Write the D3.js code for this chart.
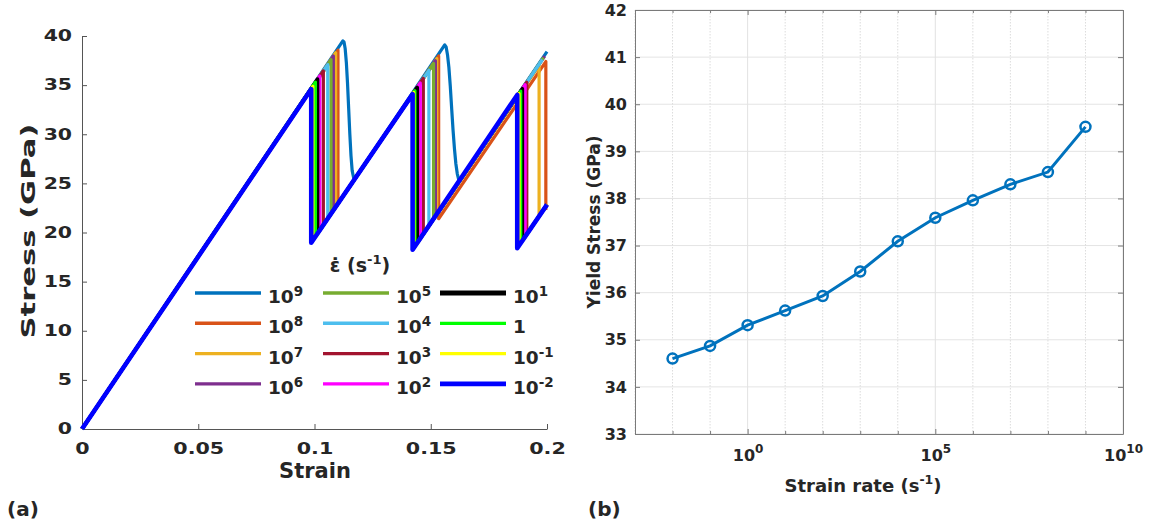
<!DOCTYPE html>
<html><head><meta charset="utf-8">
<script src="https://cdn.jsdelivr.net/npm/d3@7"></script>
<style>
body{margin:0;background:#fff;}
text{font-family:"DejaVu Sans",sans-serif;font-weight:bold;fill:#262626;}
</style>
</head><body>
<svg id="c" width="1150" height="527"></svg>
<script>
// ---------- DATA ----------
// Panel (a): strain (–) vs stress (GPa), one polyline per strain rate
const curve1e9  = [[0,0],[0.1122,39.5],[0.1127,39.4],[0.1132,38.7],[0.1137,37.3],[0.1142,35.2],[0.1147,32.6],[0.1152,30.0],[0.1157,27.8],[0.1162,26.3],[0.1168,25.6],[0.1174,25.47],
                   [0.1560,39.1],[0.1566,38.9],[0.1572,38.1],[0.1578,36.8],[0.1584,34.9],[0.1590,32.6],[0.1596,30.4],[0.1602,28.5],[0.1608,27.0],[0.1614,26.0],[0.1622,25.2],[0.2,38.4]];
const curve1e8  = [[0,0],[0.1101,38.56],[0.1101,22.94],[0.1534,37.97],[0.1534,21.4],[0.1995,37.4],[0.1995,22.3]];
const curve1e7  = [[0,0],[0.1091,38.30],[0.1091,22.59],[0.1526,37.69],[0.1526,21.75],[0.1966,37.0],[0.1966,21.6],[0.2,22.84]];
const curve1e6  = [[0,0],[0.1081,37.96],[0.1081,22.25],[0.1520,37.48],[0.1520,21.65],[0.1990,37.96]];
const curve1e5  = [[0,0],[0.1071,37.59],[0.1071,21.90],[0.1512,37.20],[0.1512,21.37],[0.1985,37.79]];
const curve1e4  = [[0,0],[0.1057,37.09],[0.1057,21.41],[0.1492,36.51],[0.1492,20.68],[0.1980,37.61]];
const curve1e3  = [[0,0],[0.1038,36.45],[0.1038,20.75],[0.1468,35.68],[0.1468,19.85],[0.1913,35.29],[0.1913,19.82],[0.2,22.84]];
const curve1e2  = [[0,0],[0.1023,35.93],[0.1023,20.23],[0.1455,35.22],[0.1455,19.40],[0.1906,35.04],[0.1906,19.58],[0.2,22.84]];
const curve1e1  = [[0,0],[0.1013,35.62],[0.1013,19.89],[0.1442,34.77],[0.1442,18.94],[0.1894,34.63],[0.1894,19.16],[0.2,22.84]];
const curve1e0  = [[0,0],[0.1004,35.31],[0.1004,19.57],[0.1432,34.43],[0.1432,18.60],[0.1887,34.39],[0.1887,18.92],[0.2,22.84]];
const curve1em1 = [[0,0],[0.0993,34.87],[0.0993,19.20],[0.1427,34.25],[0.1427,18.42],[0.1880,34.15],[0.1880,18.68],[0.2,22.84]];
const curve1em2 = [[0,0],[0.0986,34.60],[0.0986,18.95],[0.1422,34.08],[0.1422,18.25],[0.1872,34.0],[0.1872,18.40],[0.2,22.84]];
const legendBase = ["10","10","10","10","10","10","10","10","10","1","10","10"];
const legendExp  = ["9","8","7","6","5","4","3","2","1","","-1","-2"];
const strainTicks = [0,0.05,0.1,0.15,0.2];
const stressTicks = [0,5,10,15,20,25,30,35,40];

// Panel (b): strain rate (s^-1) vs yield stress (GPa)
const rateExponents = [-2,-1,0,1,2,3,4,5,6,7,8,9];
const yieldStress   = [34.60,34.87,35.31,35.62,35.93,36.45,37.09,37.59,37.96,38.30,38.56,39.52];
const rateTickExps  = [-3,-2,-1,0,1,2,3,4,5,6,7,8,9,10];
const rateLabelExps = [0,5,10];
const yieldTicks    = [33,34,35,36,37,38,39,40,41,42];

// ---------- STYLE ----------
const curves = [curve1e9,curve1e8,curve1e7,curve1e6,curve1e5,curve1e4,curve1e3,curve1e2,curve1e1,curve1e0,curve1em1,curve1em2];
const curveColors = ["#0072BD","#D95319","#EDB120","#7E2F8E","#77AC30","#4DBEEE","#A2142F","#FF00FF","#000000","#00FF00","#FFFF00","#0000FF"];
const curveWidths = [3.2,3.2,3.2,3.2,3.2,3.2,3.2,3.2,3.6,3.2,3.2,4.6];
const legendWidths = [3.4,3.4,3.4,3.4,3.4,3.4,3.4,3.4,4.8,3.2,3.4,4.8];

const svg = d3.select("#c");

// ---------- PANEL (a) ----------
const xL = d3.scaleLinear().domain([0,0.2]).range([82,547]);
const yL = d3.scaleLinear().domain([0,40]).range([429,36]);

const axYL = svg.append("g").attr("transform","translate(82,0)")
  .call(d3.axisLeft(yL).tickValues(stressTicks).tickSize(-5).tickSizeOuter(0).tickPadding(10).tickFormat(d3.format("d")));
const axXL = svg.append("g").attr("transform","translate(0,429)")
  .call(d3.axisBottom(xL).tickValues(strainTicks).tickSize(-5).tickSizeOuter(0).tickPadding(13).tickFormat(d=>String(d)));
[axYL,axXL].forEach(a=>{
  a.attr("font-family",null).attr("font-size",null);
  a.selectAll("path,line").attr("stroke","#555").attr("stroke-width",1);
});
axYL.selectAll("text").attr("font-size",15).each(function(){
  const n=this.getComputedTextLength(); d3.select(this).attr("textLength",n*1.36).attr("lengthAdjust","spacingAndGlyphs");
});
axXL.selectAll("text").attr("font-size",16.5).each(function(){
  const n=this.getComputedTextLength(); d3.select(this).attr("textLength",n*1.25).attr("lengthAdjust","spacingAndGlyphs");
});

const line = d3.line().x(d=>xL(d[0])).y(d=>yL(d[1]));
const gC = svg.append("g");
curves.forEach((c,i)=>{
  gC.append("path").attr("d",line(c)).attr("fill","none")
    .attr("stroke",curveColors[i]).attr("stroke-width",curveWidths[i])
    .attr("stroke-linejoin","round").attr("stroke-linecap","butt");
});

svg.append("text").attr("x",315).attr("y",478).attr("text-anchor","middle").attr("font-size",21).text("Strain");
const ylab = svg.append("text").attr("transform","translate(35,231) rotate(-90)").attr("text-anchor","middle")
  .attr("font-size",20).text("Stress (GPa)");
ylab.attr("textLength",215).attr("lengthAdjust","spacingAndGlyphs");

// legend
const lg = svg.append("g");
const ttl = lg.append("text").attr("x",360).attr("y",272).attr("text-anchor","middle").attr("font-size",19);
ttl.append("tspan").text("\u03B5\u0307 (s");
ttl.append("tspan").attr("dy",-8).attr("font-size",13).text("-1");
ttl.append("tspan").attr("dy",8).text(")");
const colLineX = [195,323,440], colTextX = [268,396,513];
curves.forEach((c,i)=>{
  const col = Math.floor(i/4), row = i%4, y = 293 + row*30.3;
  lg.append("line").attr("x1",colLineX[col]).attr("x2",colLineX[col]+66).attr("y1",y).attr("y2",y)
    .attr("stroke",curveColors[i]).attr("stroke-width",legendWidths[i]);
  const t = lg.append("text").attr("x",colTextX[col]).attr("y",y+10).attr("font-size",18.5);
  t.append("tspan").text(legendBase[i]);
  if (legendExp[i]) t.append("tspan").attr("dy",-7).attr("font-size",13.5).text(legendExp[i]);
});

svg.append("text").attr("x",7).attr("y",516).attr("font-size",20).text("(a)");

// ---------- PANEL (b) ----------
const xR = d3.scaleLog().domain([1e-3,1e10]).range([635,1123]);
const yR = d3.scaleLinear().domain([33,42]).range([434,10]);
const gG = svg.append("g");
yieldTicks.forEach(v=>{
  gG.append("line").attr("x1",635).attr("x2",1123).attr("y1",yR(v)).attr("y2",yR(v)).attr("stroke","#e4e4e4").attr("stroke-width",1);
});
rateTickExps.forEach(e=>{
  const x = xR(Math.pow(10,e));
  const major = rateLabelExps.includes(e);
  gG.append("line").attr("x1",x).attr("x2",x).attr("y1",10).attr("y2",434)
    .attr("stroke",major?"#e2e2e2":"#dcdcdc").attr("stroke-width",1)
    .attr("stroke-dasharray",major?null:"1.5,1.5");
});

const decades = rateTickExps.map(e=>Math.pow(10,e));
const axB = svg.append("g").attr("transform","translate(0,434)")
  .call(d3.axisBottom(xR).tickValues(decades).tickSize(-5).tickSizeOuter(0).tickPadding(16).tickFormat(()=>""));
const axT = svg.append("g").attr("transform","translate(0,10)")
  .call(d3.axisTop(xR).tickValues(decades).tickSize(-5).tickSizeOuter(0).tickFormat(()=>""));
const axLR = svg.append("g").attr("transform","translate(635,0)")
  .call(d3.axisLeft(yR).tickValues(yieldTicks).tickSize(-5).tickSizeOuter(0).tickPadding(8).tickFormat(d3.format("d")));
const axRR = svg.append("g").attr("transform","translate(1123,0)")
  .call(d3.axisRight(yR).tickValues(yieldTicks).tickSize(-5).tickSizeOuter(0).tickFormat(()=>""));
[axB,axT,axLR,axRR].forEach(a=>{
  a.attr("font-family",null).attr("font-size",null);
  a.selectAll("path,line").attr("stroke","#7a7a7a").attr("stroke-width",1);
});
[axB,axT].forEach((a,k)=>{
  a.selectAll(".tick line").attr("y2",function(d){
    const e=Math.round(Math.log10(d)); return rateLabelExps.includes(e)? (k===0?-5:5) : (k===0?-3:3);
  });
});
axLR.selectAll("text").attr("font-size",16);
axB.selectAll(".tick text").each(function(d){
  const e = Math.round(Math.log10(d));
  const t = d3.select(this);
  if (!rateLabelExps.includes(e)) { t.remove(); return; }
  t.text(null).attr("font-size",16);
  t.append("tspan").text("10");
  t.append("tspan").attr("dy",-8).attr("font-size",12).text(String(e));
});

const lineR = d3.line().x((d,i)=>xR(Math.pow(10,rateExponents[i]))).y(d=>yR(d));
svg.append("path").attr("d",lineR(yieldStress)).attr("fill","none").attr("stroke","#0072BD").attr("stroke-width",3);
svg.append("g").selectAll("circle").data(yieldStress).join("circle")
  .attr("cx",(d,i)=>xR(Math.pow(10,rateExponents[i]))).attr("cy",d=>yR(d)).attr("r",5)
  .attr("fill","none").attr("stroke","#0072BD").attr("stroke-width",2.5);

const xlabR = svg.append("text").attr("x",863).attr("y",492).attr("text-anchor","middle").attr("font-size",18);
xlabR.append("tspan").text("Strain rate (s");
xlabR.append("tspan").attr("dy",-8).attr("font-size",12.5).text("-1");
xlabR.append("tspan").attr("dy",8).text(")");
svg.append("text").attr("transform","translate(600,222) rotate(-90)").attr("text-anchor","middle")
  .attr("font-size",17).text("Yield Stress (GPa)");
svg.append("text").attr("x",588).attr("y",516).attr("font-size",20).text("(b)");
</script>
</body></html>
